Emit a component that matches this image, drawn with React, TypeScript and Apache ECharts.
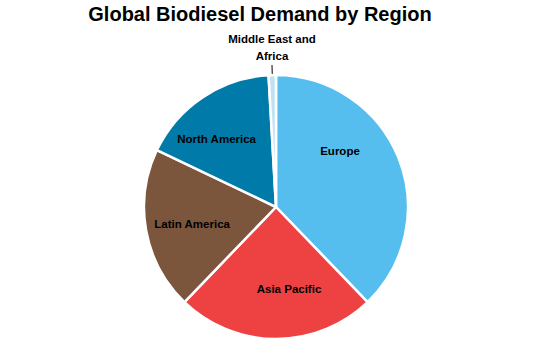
import React, { useEffect, useRef } from "react";
import * as echarts from "echarts";

const categories = ["Europe", "Asia Pacific", "Latin America", "North America", "Middle East and Africa"];
const shares = [37.8, 24.4, 19.9, 17.0, 0.9];
const labelTexts = ["Europe", "Asia Pacific", "Latin America", "North America", "Middle East and\nAfrica"];

const colors = ["#56BEEE", "#EE4242", "#7B563D", "#007BA9", "#BFE3F3"];
const labelNudges: [number, number][] = [[0, -30], [13, 13], [-16, 5], [-21, -11], [0, 0]];

export default function App() {
  const ref = useRef<HTMLDivElement>(null);
  useEffect(() => {
    document.body.style.margin = "0";
    if (!ref.current) return;
    const chart = echarts.init(ref.current, undefined, { renderer: "svg" });
    const font = "'Liberation Sans', Arial, sans-serif";
    const data = categories.map((name, i) => {
      const outside = i === 4;
      return {
        name,
        value: shares[i],
        itemStyle: { color: colors[i] },
        label: outside
          ? {
              show: true,
              position: "outside",
              formatter: labelTexts[i],
              align: "center",
              lineHeight: 16.5,
            }
          : {
              show: true,
              position: "inside",
              formatter: labelTexts[i],
              offset: labelNudges[i],
            },
        labelLine: outside
          ? { show: true, length: 10, length2: 0, lineStyle: { color: "#000", width: 1 } }
          : { show: false },
      };
    });
    chart.setOption({
      animation: false,
      title: {
        text: "Global Biodiesel Demand by Region",
        left: 260,
        top: 4,
        padding: 0,
        textAlign: "center",
        textStyle: { fontFamily: font, fontWeight: "bold", fontSize: 20, color: "#000" },
      },
      series: [
        {
          type: "pie",
          center: [276, 207],
          radius: 132,
          startAngle: 90,
          clockwise: true,
          avoidLabelOverlap: false,
          itemStyle: { borderColor: "#fff", borderWidth: 2.5 },
          label: { fontFamily: font, fontWeight: "bold", fontSize: 11.5, color: "#000" },
          emphasis: { disabled: true },
          labelLayout: (params: any) => {
            if (params.dataIndex !== 4) return {};
            const pts = params.labelLinePoints;
            if (!pts) return {};
            const p1 = pts[1];
            return {
              x: p1[0],
              y: p1[1] - 1,
              align: "center",
              verticalAlign: "bottom",
              labelLinePoints: [pts[0], p1],
            };
          },
          data,
        },
      ],
    });
    return () => chart.dispose();
  }, []);
  return <div ref={ref} style={{ width: 549, height: 356 }} />;
}
